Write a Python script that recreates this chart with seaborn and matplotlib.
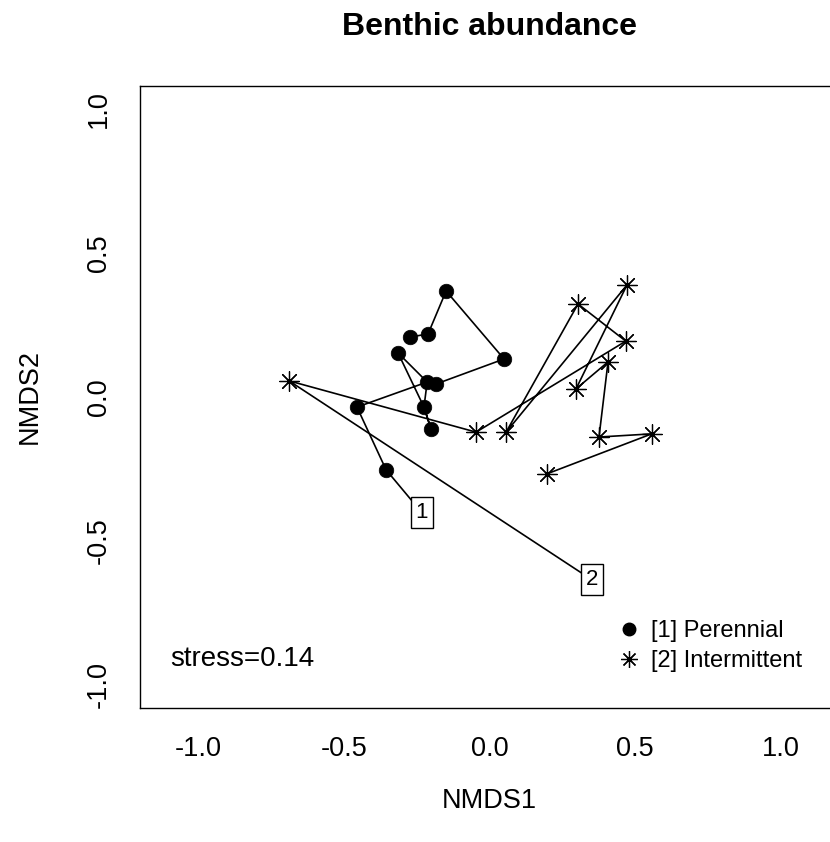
import numpy as np
import pandas as pd
import matplotlib
matplotlib.use("Agg")
import matplotlib.pyplot as plt
from matplotlib.lines import Line2D
import seaborn as sns

# ---- data ----
groups = ["[1] Perennial", "[2] Intermittent"]
group_ids = ["1", "2"]

per_x = [-0.355, -0.455, -0.214, -0.184, 0.050, -0.149, -0.211, -0.273, -0.314, -0.225, -0.201]
per_y = [-0.253, -0.035, 0.052, 0.045, 0.132, 0.368, 0.219, 0.208, 0.153, -0.035, -0.111]
per_path = [0, 1, 2, 8, 9, 10, 9, 2, 3, 4, 5, 6, 7]

int_x = [-0.688, -0.046, 0.468, 0.304, 0.057, 0.472, 0.297, 0.407, 0.376, 0.557, 0.197]
int_y = [0.056, -0.122, 0.194, 0.323, -0.122, 0.389, 0.028, 0.122, -0.139, -0.128, -0.267]
int_path = [0, 1, 2, 3, 4, 5, 6, 7, 8, 9, 10]

label_x = [-0.232, 0.352]
label_y = [-0.402, -0.635]

stress = 0.14
ticks = [-1.0, -0.5, 0.0, 0.5, 1.0]
tick_labels = ["-1.0", "-0.5", "0.0", "0.5", "1.0"]

# ---- style ----
sns.set_style("white")
plt.rcParams["font.family"] = ["Liberation Sans", "DejaVu Sans"]
plt.rcParams["axes.unicode_minus"] = False
plt.rcParams["text.color"] = "black"
plt.rcParams["axes.labelcolor"] = "black"
plt.rcParams["xtick.color"] = "black"
plt.rcParams["ytick.color"] = "black"

W, H = 830, 842
fig = plt.figure(figsize=(W / 100, H / 100), dpi=100)
ax = fig.add_axes([140 / W, (H - 708) / H, 699 / W, 622 / H])

star = (8, 2, 0)

# paths from label to points (in sampling order)
for xs, ys, path, lab in [(per_x, per_y, per_path, 0), (int_x, int_y, int_path, 1)]:
    px = [label_x[lab]] + [xs[i] for i in path]
    py = [label_y[lab]] + [ys[i] for i in path]
    dfp = pd.DataFrame({"x": px, "y": py})
    sns.lineplot(data=dfp, x="x", y="y", sort=False, estimator=None, color="black",
                 lw=1.2, ax=ax, zorder=2)

dper = pd.DataFrame({"x": per_x, "y": per_y})
dint = pd.DataFrame({"x": int_x, "y": int_y})
sns.scatterplot(data=dper, x="x", y="y", marker="o", s=110, color="black",
                edgecolor="black", linewidth=0.5, ax=ax, zorder=3)
sns.scatterplot(data=dint, x="x", y="y", marker=star, s=200, color="black",
                linewidth=0.9, ax=ax, zorder=3)

for lx, ly, gid in zip(label_x, label_y, group_ids):
    ax.text(lx, ly, gid, ha="center", va="center", fontsize=16, zorder=4,
            bbox=dict(boxstyle="square,pad=0.22", fc="white", ec="black", lw=1.0))

ax.text(-1.096, -0.91, f"stress={stress}", ha="left", va="center", fontsize=20)

ax.set_xlim(-1.2, 1.2)
ax.set_ylim(-1.08, 1.08)
ax.set_xticks(ticks)
ax.set_xticklabels(tick_labels)
ax.set_yticks(ticks)
ax.set_yticklabels(tick_labels, rotation=90, va="center")
ax.tick_params(axis="both", direction="out", length=6, width=1, color="black",
               labelsize=19.5, labelcolor="black")
ax.tick_params(axis="x", pad=14)
ax.tick_params(axis="y", pad=14)
for sp in ax.spines.values():
    sp.set_color("black")
    sp.set_linewidth(1.0)

ax.set_xlabel("NMDS1", fontsize=19.5)
ax.set_ylabel("NMDS2", fontsize=19.5)
ax.xaxis.set_label_coords(0.5, (708 - 801) / 622)
ax.xaxis.label.set_va("center")
ax.yaxis.set_label_coords((30 - 140) / 699, 0.5)
ax.yaxis.label.set_va("center")
ax.text(0.5, 1 + (86 - 27) / 622, "Benthic abundance", transform=ax.transAxes,
        ha="center", va="center", fontsize=23, fontweight="bold")

handles = [Line2D([], [], marker="o", color="black", ls="none", markersize=9),
           Line2D([], [], marker=star, color="black", ls="none", markersize=12, markeredgewidth=0.9)]
leg = ax.legend(handles, groups, loc="center left", frameon=False, fontsize=17,
                bbox_to_anchor=((617 - 140) / 699, (708 - 646) / 622),
                handlelength=1.0, handletextpad=0.45, labelspacing=0.32, borderpad=0,
                borderaxespad=0)

fig.savefig("out.png", dpi=100)
